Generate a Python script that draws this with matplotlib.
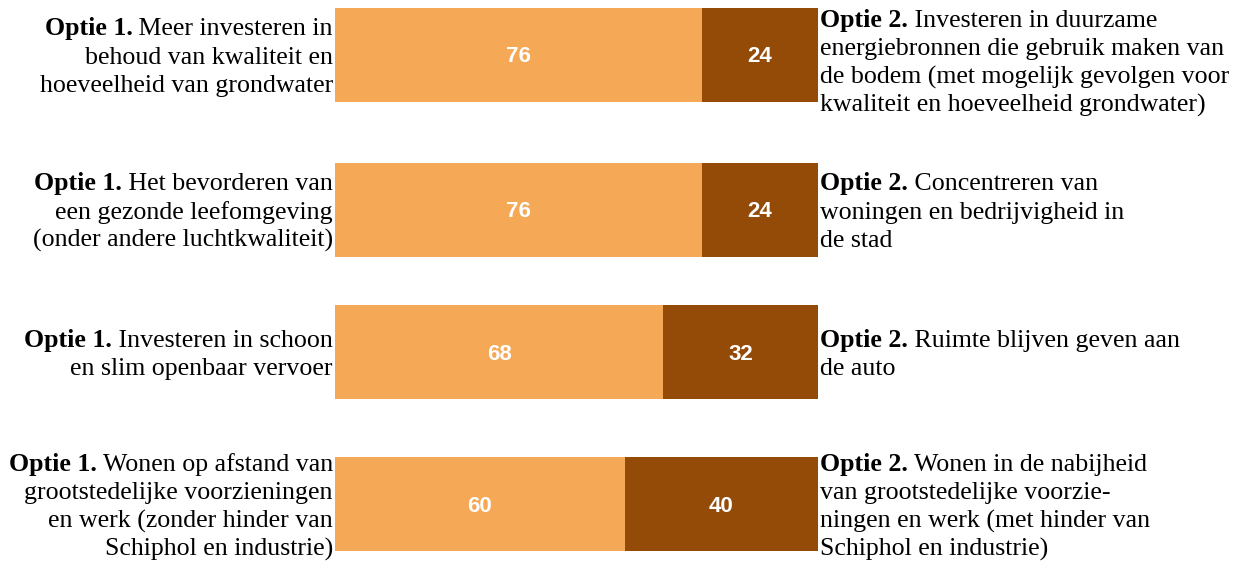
import matplotlib
matplotlib.use("Agg")
import matplotlib.pyplot as plt

# ---- data ----
option1_values = [76, 76, 68, 60]
option2_values = [24, 24, 32, 40]
option1_labels = [
    ["Meer investeren in", "behoud van kwaliteit en", "hoeveelheid van grondwater"],
    ["Het bevorderen van", "een gezonde leefomgeving", "(onder andere luchtkwaliteit)"],
    ["Investeren in schoon", "en slim openbaar vervoer"],
    ["Wonen op afstand van", "grootstedelijke voorzieningen", "en werk (zonder hinder van", "Schiphol en industrie)"],
]
option2_labels = [
    ["Investeren in duurzame", "energiebronnen die gebruik maken van", "de bodem (met mogelijk gevolgen voor", "kwaliteit en hoeveelheid grondwater)"],
    ["Concentreren van", "woningen en bedrijvigheid in", "de stad"],
    ["Ruimte blijven geven aan", "de auto"],
    ["Wonen in de nabijheid", "van grootstedelijke voorzie-", "ningen en werk (met hinder van", "Schiphol en industrie)"],
]
prefix1 = "Optie 1."
prefix2 = "Optie 2."

# ---- layout ----
W, H = 1240, 562
DPI = 100
bar_centers = [54.5, 209.5, 352, 504]   # pixel rows (from top)
bar_height = 94
right_offsets = [6, 0, 0, 0]
col1 = "#F5A855"
col2 = "#954B08"
serif = "Liberation Serif"
fs = 18.6
line_h = 28.2

fig = plt.figure(figsize=(W / DPI, H / DPI), dpi=DPI)
x0, x1 = 335, 818
ax = fig.add_axes([x0 / W, 0, (x1 - x0) / W, 1])
ax.set_xlim(0, 100)
ax.set_ylim(H, 0)
ax.axis("off")

ax.barh(bar_centers, option1_values, height=bar_height, color=col1, linewidth=0)
ax.barh(bar_centers, option2_values, left=option1_values, height=bar_height, color=col2, linewidth=0)

for yc, v1, v2 in zip(bar_centers, option1_values, option2_values):
    ax.text(v1 / 2, yc + 2, str(v1), ha="center", va="center", color="white",
            fontsize=16, fontweight="bold", family="Liberation Sans")
    ax.text(v1 + v2 / 2, yc + 2, str(v2), ha="center", va="center", color="white",
            fontsize=16, fontweight="bold", family="Liberation Sans")

fig.canvas.draw()
renderer = fig.canvas.get_renderer()


def disp(xpix, ypix_top):
    return xpix, H - ypix_top


def draw_block(lines, prefix, yc, x, align, dy=0):
    n = len(lines)
    for i, line in enumerate(lines):
        base = yc + 9 + (i - (n - 1) / 2) * line_h + dy
        xd, yd = disp(x, base)
        if i == 0:
            if align == "right":
                t = fig.text(xd, yd, " " + line, ha="right", va="baseline",
                             fontsize=fs, family=serif, transform=None)
                bb = t.get_window_extent(renderer)
                fig.text(bb.x0, yd, prefix, ha="right", va="baseline", fontsize=fs,
                         family=serif, fontweight="bold", transform=None)
            else:
                t = fig.text(xd, yd, prefix, ha="left", va="baseline", fontsize=fs,
                             family=serif, fontweight="bold", transform=None)
                bb = t.get_window_extent(renderer)
                fig.text(bb.x1, yd, " " + line, ha="left", va="baseline",
                         fontsize=fs, family=serif, transform=None)
        else:
            fig.text(xd, yd, line, ha=align, va="baseline", fontsize=fs,
                     family=serif, transform=None)


for yc, l1, l2, off in zip(bar_centers, option1_labels, option2_labels, right_offsets):
    draw_block(l1, prefix1, yc, 333, "right")
    draw_block(l2, prefix2, yc, 820, "left", dy=off)

fig.savefig("out.png", dpi=DPI)
